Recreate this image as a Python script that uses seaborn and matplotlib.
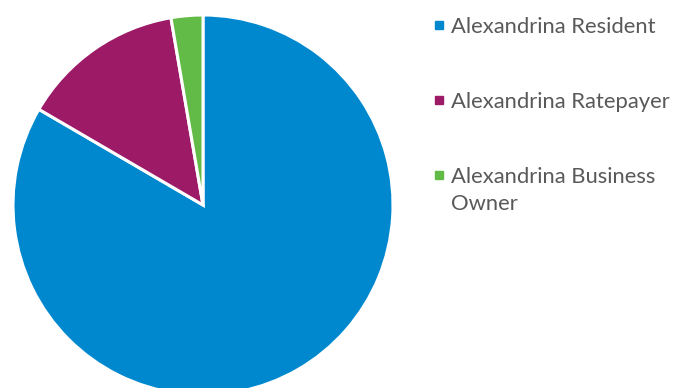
import matplotlib
matplotlib.use("Agg")
import matplotlib.pyplot as plt
import seaborn as sns
from matplotlib.patches import Rectangle

sns.set_theme(style="white")
plt.rcParams['font.family'] = ['Lato', 'DejaVu Sans']

# Respondent type shares (%)
categories = ["Alexandrina Resident", "Alexandrina Ratepayer", "Alexandrina Business\nOwner"]
shares = [83.4, 13.9, 2.7]
colors = ["#0088CF", "#9C1A66", "#63BB47"]

W, H = 681, 388
fig = plt.figure(figsize=(W / 100, H / 100), dpi=100)

# pie centre (203, 205) px from top-left, radius 190 px
cx, cy, r = 203, 205, 190
ax = fig.add_axes([(cx - r) / W, (H - cy - r) / H, 2 * r / W, 2 * r / H])
ax.pie(shares, colors=colors, startangle=90, counterclock=False, radius=1,
       wedgeprops=dict(edgecolor="white", linewidth=2.2))
ax.set_xlim(-1, 1)
ax.set_ylim(-1, 1)
ax.set_aspect("equal")
ax.axis("off")

# legend drawn by hand so the square sits on the first line
text_color = "#595959"
baselines = [33, 108, 183]
for label, col, yb in zip(categories, colors, baselines):
    fig.patches.append(Rectangle((435 / W, 1 - (yb - 4) / H), 8 / W, 8 / H,
                                 transform=fig.transFigure, color=col))
    for i, line in enumerate(label.split("\n")):
        fig.text(451 / W, 1 - (yb + 27 * i) / H, line, color=text_color,
                 fontsize=15.8, va="baseline", ha="left")

fig.savefig("out.png", dpi=100, facecolor="white")
